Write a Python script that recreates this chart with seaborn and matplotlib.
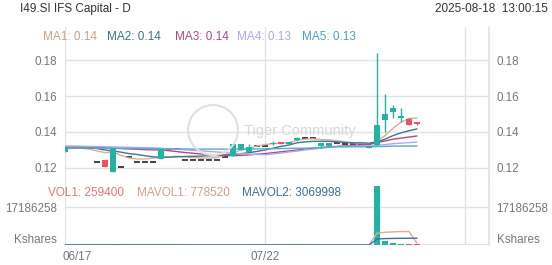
import numpy as np
import pandas as pd
import matplotlib
matplotlib.use("Agg")
import matplotlib.pyplot as plt
from matplotlib.patches import Ellipse
import seaborn as sns

# ---------------- data ----------------
title = "I49.SI IFS Capital - D"
stamp = "2025-08-18  13:00:15"
date_ticks = [0, 25, 50]
date_labels = ["06/17", "07/22", ""]

opens = [0.1290, 0.1312, 0.1312, 0.1312, 0.1233, 0.1245, 0.1180, 0.1206, 0.1260, 0.1233,
         0.1233, 0.1233, 0.1250, 0.1306, 0.1306, 0.1244, 0.1244, 0.1244, 0.1244, 0.1244,
         0.1260, 0.1267, 0.1300, 0.1290, 0.1322, 0.1322, 0.1333, 0.1344, 0.1333, 0.1355,
         0.1367, 0.1367, 0.1322, 0.1322, 0.1339, 0.1333, 0.1333, 0.1333, 0.1311, 0.1328,
         0.1467, 0.1511, 0.1478, 0.1472, 0.1456]
highs = [0.1315, 0.1312, 0.1312, 0.1312, 0.1233, 0.1245, 0.1310, 0.1206, 0.1260, 0.1233,
         0.1233, 0.1233, 0.1306, 0.1306, 0.1306, 0.1244, 0.1244, 0.1244, 0.1244, 0.1244,
         0.1260, 0.1333, 0.1333, 0.1336, 0.1322, 0.1322, 0.1350, 0.1344, 0.1344, 0.1372,
         0.1367, 0.1367, 0.1339, 0.1339, 0.1339, 0.1333, 0.1333, 0.1333, 0.1322, 0.1839,
         0.1611, 0.1550, 0.1533, 0.1478, 0.1456]
lows = [0.1290, 0.1312, 0.1312, 0.1312, 0.1233, 0.1206, 0.1180, 0.1206, 0.1260, 0.1233,
        0.1233, 0.1233, 0.1250, 0.1306, 0.1306, 0.1244, 0.1244, 0.1244, 0.1244, 0.1244,
        0.1260, 0.1267, 0.1300, 0.1290, 0.1322, 0.1322, 0.1330, 0.1333, 0.1333, 0.1350,
        0.1367, 0.1367, 0.1311, 0.1322, 0.1339, 0.1333, 0.1333, 0.1333, 0.1311, 0.1328,
        0.1400, 0.1478, 0.1456, 0.1439, 0.1439]
closes = [0.1315, 0.1312, 0.1312, 0.1312, 0.1233, 0.1206, 0.1310, 0.1206, 0.1260, 0.1233,
          0.1233, 0.1233, 0.1306, 0.1306, 0.1306, 0.1244, 0.1244, 0.1244, 0.1244, 0.1244,
          0.1260, 0.1333, 0.1333, 0.1317, 0.1322, 0.1322, 0.1340, 0.1333, 0.1344, 0.1367,
          0.1367, 0.1367, 0.1339, 0.1339, 0.1339, 0.1333, 0.1333, 0.1333, 0.1322, 0.1439,
          0.1500, 0.1533, 0.1489, 0.1439, 0.1444]

ma1 = [0.1306, 0.1310, 0.1310, 0.1305, 0.1295, 0.1285, 0.1290, 0.1270, 0.1256, 0.1250,
       0.1250, 0.1255, 0.1258, 0.1262, 0.1265, 0.1262, 0.1258, 0.1255, 0.1255, 0.1258,
       0.1270, 0.1285, 0.1300, 0.1310, 0.1322, 0.1330, 0.1335, 0.1338, 0.1340, 0.1355,
       0.1360, 0.1362, 0.1358, 0.1356, 0.1352, 0.1345, 0.1340, 0.1336, 0.1330, 0.1350,
       0.1380, 0.1420, 0.1455, 0.1475, 0.1478]
ma2 = [0.1310, 0.1312, 0.1312, 0.1312, 0.1308, 0.1300, 0.1295, 0.1288, 0.1280, 0.1275,
       0.1268, 0.1262, 0.1260, 0.1260, 0.1262, 0.1264, 0.1265, 0.1266, 0.1268, 0.1270,
       0.1272, 0.1275, 0.1280, 0.1285, 0.1292, 0.1300, 0.1310, 0.1320, 0.1328, 0.1340,
       0.1345, 0.1348, 0.1348, 0.1348, 0.1345, 0.1342, 0.1340, 0.1340, 0.1338, 0.1345,
       0.1360, 0.1380, 0.1395, 0.1407, 0.1417]
ma3 = [0.1318, 0.1318, 0.1317, 0.1316, 0.1314, 0.1312, 0.1310, 0.1308, 0.1306, 0.1304,
       0.1302, 0.1301, 0.1300, 0.1296, 0.1291, 0.1286, 0.1282, 0.1278, 0.1275, 0.1272,
       0.1270, 0.1268, 0.1270, 0.1273, 0.1277, 0.1280, 0.1285, 0.1290, 0.1295, 0.1300,
       0.1305, 0.1309, 0.1313, 0.1317, 0.1320, 0.1323, 0.1326, 0.1328, 0.1330, 0.1342,
       0.1350, 0.1360, 0.1366, 0.1372, 0.1378]
ma4 = [0.1322, 0.1322, 0.1321, 0.1320, 0.1319, 0.1318, 0.1317, 0.1316, 0.1315, 0.1314,
       0.1313, 0.1312, 0.1310, 0.1307, 0.1304, 0.1301, 0.1298, 0.1295, 0.1292, 0.1289,
       0.1285, 0.1282, 0.1279, 0.1277, 0.1275, 0.1274, 0.1278, 0.1283, 0.1289, 0.1294,
       0.1300, 0.1305, 0.1310, 0.1315, 0.1320, 0.1321, 0.1322, 0.1322, 0.1322, 0.1326,
       0.1330, 0.1335, 0.1338, 0.1341, 0.1344]
ma5 = [0.1312, 0.1312, 0.1311, 0.1311, 0.1310, 0.1310, 0.1309, 0.1309, 0.1308, 0.1308,
       0.1307, 0.1307, 0.1306, 0.1306, 0.1306, 0.1306, 0.1305, 0.1305, 0.1305, 0.1305,
       0.1305, 0.1305, 0.1305, 0.1306, 0.1306, 0.1306, 0.1307, 0.1308, 0.1309, 0.1310,
       0.1310, 0.1312, 0.1314, 0.1316, 0.1317, 0.1317, 0.1318, 0.1318, 0.1318, 0.1319,
       0.1320, 0.1322, 0.1322, 0.1322, 0.1322]

volumes = [50000, 0, 0, 0, 0, 120000, 300000, 0, 0, 0,
           0, 0, 80000, 0, 0, 0, 0, 0, 0, 0,
           0, 150000, 60000, 40000, 0, 0, 30000, 20000, 30000, 40000,
           0, 0, 50000, 40000, 0, 0, 0, 0, 100000, 26700000,
           2000000, 800000, 500000, 350000, 259400]
mavol1 = [60000, 40000, 30000, 20000, 10000, 24000, 84000, 84000, 84000, 60000,
          0, 0, 16000, 16000, 16000, 16000, 16000, 0, 0, 0,
          0, 30000, 42000, 50000, 50000, 50000, 26000, 18000, 16000, 24000,
          24000, 18000, 24000, 26000, 18000, 18000, 8000, 0, 20000, 5360000,
          5760000, 5920000, 6070000, 6070000, 778520]
mavol2 = [50000, 50000, 45000, 45000, 40000, 42000, 70000, 60000, 55000, 50000,
          47000, 42000, 50000, 38000, 38000, 38000, 8000, 8000, 8000, 8000,
          8000, 15000, 21000, 25000, 25000, 25000, 28000, 30000, 33000, 37000,
          33000, 27000, 26000, 24000, 24000, 24000, 13000, 9000, 10000, 2690000,
          2890000, 2970000, 3020000, 3050000, 3069998]

vol_tick = 17186258
price_ticks = [0.12, 0.14, 0.16, 0.18]
ma_names = ["MA1", "MA2", "MA3", "MA4", "MA5"]
ma_vals = ["0.14", "0.14", "0.14", "0.13", "0.13"]
vol_names = ["VOL1: 259400", "MAVOL1: 778520", "MAVOL2: 3069998"]

# ---------------- styling ----------------
sns.set_theme(style="white")
plt.rcParams["font.family"] = ["Liberation Sans", "DejaVu Sans"]

UP = "#22b4a3"
DOWN = "#f04f68"
GRID = "#e2e2e2"
TXT = "#777777"
FS = 8.4
ma_colors = ["#dcae94", "#3f7397", "#b2497f", "#abaae6", "#58a8d8"]
ma_txt = ["#c9a188", "#3f6f8c", "#b04883", "#a9a7e2", "#4a9dd0"]
vol_txt = ["#e8707c", "#c9a188", "#3f6f8c"]

W, H = 552, 265
fig = plt.figure(figsize=(W / 100, H / 100), dpi=100)

def fx(px):
    return px / W

def fy(py):
    return 1 - py / H

left, right = 65, 489
ax = fig.add_axes([fx(left), fy(180), fx(right - left), (180 - 27) / H])
axv = fig.add_axes([fx(left), fy(245), fx(right - left), (245 - 180) / H])

n = len(closes)
idx = np.arange(n)
df = pd.DataFrame({"i": idx, "open": opens, "high": highs, "low": lows,
                   "close": closes, "vol": volumes})
for k, m in enumerate([ma1, ma2, ma3, ma4, ma5]):
    df[f"ma{k+1}"] = m
df["mavol1"] = mavol1
df["mavol2"] = mavol2

XMAX = 53
for a in (ax, axv):
    a.set_xlim(0, XMAX)
    for t in date_ticks:
        a.axvline(t, color=GRID, lw=1, zorder=0)
    for s in a.spines.values():
        s.set_visible(False)
    a.spines["right"].set_visible(True)
    a.spines["right"].set_color(GRID)
    a.set_xticks([])
    a.set_facecolor("none")

# price panel
ax.set_ylim(0.12 - 12 / 1800, 0.12 + 141 / 1800)
for p in price_ticks:
    ax.axhline(p, color=GRID, lw=1, zorder=0)

# watermark
fig.add_artist(Ellipse((fx(213), fy(130)), 50 / W, 50 / H, fill=False,
                       ec="#e0e0e0", lw=1.5, transform=fig.transFigure, zorder=1))
fig.text(fx(244), fy(131), "Tiger Community", color="#d8d8d8", fontsize=10.5,
         va="center", ha="left", zorder=1)

for k in range(5):
    sns.lineplot(data=df, x="i", y=f"ma{k+1}", ax=ax, color=ma_colors[k],
                 lw=1.0, zorder=2, legend=False)

bw = 0.72
for r in df.itertuples():
    if r.open == r.close and r.high == r.low:
        ax.hlines(r.close, r.i - bw / 2, r.i + bw / 2, color="#222222", lw=1.2, zorder=1.5)
        continue
    col = UP if r.close >= r.open else DOWN
    ax.vlines(r.i, r.low, r.high, color=col, lw=1.0, zorder=3)
    lo, hi = min(r.open, r.close), max(r.open, r.close)
    ax.bar(r.i, max(hi - lo, 0.0004), bottom=lo, width=bw, color=col, zorder=4, lw=0)

ax.set_yticks(price_ticks)
ax.set_yticklabels([f"{p:.2f}" for p in price_ticks])
ax.tick_params(axis="y", length=0, left=False, right=False, labelleft=True,
               labelright=True, labelsize=FS, labelcolor=TXT, pad=5.5)
ax.set_xlabel("")
ax.set_ylabel("")

# volume panel
vmax = vol_tick * 65 / 38
axv.set_ylim(0, vmax)
axv.axhline(vol_tick, color=GRID, lw=1, zorder=0)
axv.axhline(0, color=GRID, lw=1.5, zorder=0)
vcols = [UP if c >= o else DOWN for o, c in zip(opens, closes)]
axv.bar(df["i"], df["vol"], width=bw, color=vcols, lw=0, zorder=3)
sns.lineplot(data=df, x="i", y="mavol1", ax=axv, color=ma_colors[0], lw=1.0,
             zorder=4, legend=False)
sns.lineplot(data=df, x="i", y="mavol2", ax=axv, color=ma_colors[1], lw=1.0,
             zorder=4, legend=False)
axv.plot([0, 38], [0, 0], color="#9a5a8a", lw=1.0, zorder=2)
axv.set_yticks([vol_tick])
axv.set_yticklabels([str(vol_tick)])
axv.tick_params(axis="y", length=0, left=False, right=False, labelleft=True,
                labelright=True, labelsize=FS, labelcolor=TXT, pad=5.5)
axv.set_xlabel("")
axv.set_ylabel("")

# "Kshares" labels
fig.text(fx(57), fy(240), "Kshares", ha="right", va="center", fontsize=FS, color=TXT)
fig.text(fx(497), fy(240), "Kshares", ha="left", va="center", fontsize=FS, color=TXT)

# x labels
fig.text(fx(63), fy(257), date_labels[0], ha="left", va="center", fontsize=FS, color=TXT)
fig.text(fx(left + 8 * date_ticks[1]), fy(257), date_labels[1], ha="center",
         va="center", fontsize=FS, color=TXT)

# header
fig.text(fx(20), fy(9), title, ha="left", va="center", fontsize=8.5, color="#333333")
fig.text(fx(548), fy(9), stamp, ha="right", va="center", fontsize=8.5, color="#333333")

# MA legend
ma_x = [43, 107, 175, 237, 302]
for k in range(5):
    fig.text(fx(ma_x[k]), fy(37), f"{ma_names[k]}: {ma_vals[k]}", ha="left",
             va="center", fontsize=8.5, color=ma_txt[k])

vol_x = [48, 137, 242]
for k in range(3):
    fig.text(fx(vol_x[k]), fy(193), vol_names[k], ha="left", va="center",
             fontsize=8.5, color=vol_txt[k])

fig.savefig("out.png", dpi=100)
